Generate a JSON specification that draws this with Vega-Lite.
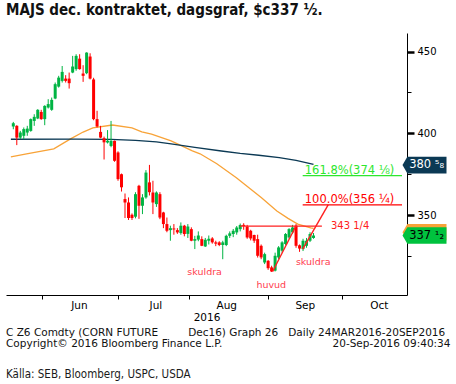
{
  "$schema": "https://vega.github.io/schema/vega-lite/v6.json",
  "background": "white",
  "padding": {"left": 6, "top": 3, "right": 0, "bottom": 2},
  "config": {"view": {"stroke": null}, "font": "DejaVu Sans"},
  "title": {
    "text": ["C Z6 Comdty (CORN FUTURE\u00a0\u00a0\u00a0\u00a0\u00a0\u00a0\u00a0\u00a0\u00a0Dec16) Graph 26\u00a0\u00a0\u00a0Daily 24MAR2016-20SEP2016", "Copyright\u00a9 2016 Bloomberg Finance L.P.\u00a0\u00a0\u00a0\u00a0\u00a0\u00a0\u00a0\u00a0\u00a0\u00a0\u00a0\u00a0\u00a0\u00a0\u00a0\u00a0\u00a0\u00a0\u00a0\u00a0\u00a0\u00a0\u00a0\u00a0\u00a0\u00a0\u00a0\u00a0\u00a0\u00a0\u00a0\u00a0\u00a020-Sep-2016 09:40:34"],
    "subtitle": "Källa: SEB, Bloomberg, USPC, USDA",
    "orient": "bottom",
    "anchor": "start",
    "font": "DejaVu Sans",
    "fontSize": 10.5,
    "fontWeight": "normal",
    "lineHeight": 11,
    "color": "#111111",
    "offset": 5,
    "subtitleFont": "DejaVu Sans Condensed, Liberation Sans Narrow, sans-serif",
    "subtitleFontSize": 11.5,
    "subtitleColor": "#1a1a1a",
    "subtitlePadding": 19
  },
  "datasets": {
    "candles": [
      {"i": -8, "open": 404.2, "high": 407, "low": 402.5, "close": 406.2},
      {"i": -7, "open": 404.6, "high": 405, "low": 392.8, "close": 397.4},
      {"i": -6, "open": 397.4, "high": 401.5, "low": 396.5, "close": 400.5},
      {"i": -5, "open": 398.5, "high": 403.6, "low": 396.5, "close": 402.6},
      {"i": -4, "open": 400.5, "high": 404.6, "low": 398.5, "close": 402.9},
      {"i": -3, "open": 401.5, "high": 409.1, "low": 401, "close": 408.7},
      {"i": -2, "open": 407.6, "high": 411.7, "low": 404.6, "close": 410.1},
      {"i": -1, "open": 409.1, "high": 414.8, "low": 408.7, "close": 414.4},
      {"i": 0, "open": 413.1, "high": 414.4, "low": 408.3, "close": 408.7},
      {"i": 1, "open": 408.7, "high": 417.2, "low": 405, "close": 416.8},
      {"i": 2, "open": 415.8, "high": 420.9, "low": 415.2, "close": 417.9},
      {"i": 3, "open": 414.4, "high": 421.9, "low": 413.8, "close": 420.5},
      {"i": 4, "open": 421.3, "high": 431.1, "low": 420.9, "close": 430.1},
      {"i": 5, "open": 428.6, "high": 435.2, "low": 428, "close": 434.1},
      {"i": 6, "open": 432.1, "high": 441.2, "low": 431.1, "close": 437.6},
      {"i": 7, "open": 433.5, "high": 435.6, "low": 431.1, "close": 432.1},
      {"i": 8, "open": 433.5, "high": 437.2, "low": 427.4, "close": 430.7},
      {"i": 9, "open": 437.2, "high": 447.4, "low": 436.8, "close": 440.9},
      {"i": 10, "open": 439.3, "high": 448.4, "low": 438.3, "close": 447.4},
      {"i": 11, "open": 445.7, "high": 448.4, "low": 439, "close": 439.3},
      {"i": 12, "open": 436.6, "high": 441.7, "low": 431.5, "close": 435.2},
      {"i": 13, "open": 436.8, "high": 449.6, "low": 436.2, "close": 449.4},
      {"i": 14, "open": 447, "high": 449, "low": 433, "close": 433.5},
      {"i": 15, "open": 433, "high": 434, "low": 408, "close": 408.7},
      {"i": 16, "open": 408.7, "high": 413.8, "low": 403.6, "close": 404.2},
      {"i": 17, "open": 400.9, "high": 404.6, "low": 397, "close": 397.4},
      {"i": 18, "open": 397, "high": 398, "low": 384, "close": 394.5},
      {"i": 19, "open": 394.4, "high": 402, "low": 393.8, "close": 395.5},
      {"i": 20, "open": 392.3, "high": 407.6, "low": 391.5, "close": 395.4},
      {"i": 21, "open": 395.4, "high": 395.6, "low": 382.6, "close": 383.2},
      {"i": 22, "open": 388.3, "high": 389, "low": 371, "close": 372},
      {"i": 23, "open": 375, "high": 375.4, "low": 364.4, "close": 367},
      {"i": 24, "open": 359.8, "high": 363.2, "low": 348.2, "close": 357.7},
      {"i": 25, "open": 357.7, "high": 360.8, "low": 347, "close": 348.2},
      {"i": 26, "open": 350.2, "high": 351, "low": 347, "close": 348.2},
      {"i": 27, "open": 349, "high": 364, "low": 348, "close": 362.8},
      {"i": 28, "open": 367.9, "high": 368.5, "low": 347.7, "close": 355.7},
      {"i": 29, "open": 355.7, "high": 362.8, "low": 350.6, "close": 360.8},
      {"i": 30, "open": 360.8, "high": 377.5, "low": 360, "close": 376},
      {"i": 31, "open": 370, "high": 380.7, "low": 362, "close": 364},
      {"i": 32, "open": 363.8, "high": 371, "low": 350.6, "close": 357.7},
      {"i": 33, "open": 356.7, "high": 364.5, "low": 355, "close": 363.8},
      {"i": 34, "open": 362.8, "high": 364, "low": 347.5, "close": 348.5},
      {"i": 35, "open": 351.6, "high": 352, "low": 342, "close": 344.5},
      {"i": 36, "open": 344.5, "high": 348.5, "low": 339.5, "close": 340.4},
      {"i": 37, "open": 340.8, "high": 343.5, "low": 334.3, "close": 342},
      {"i": 38, "open": 341.8, "high": 344.5, "low": 338, "close": 341.2},
      {"i": 39, "open": 340.8, "high": 342, "low": 338.5, "close": 339.4},
      {"i": 40, "open": 339, "high": 345.5, "low": 338, "close": 343.5},
      {"i": 41, "open": 343.5, "high": 344, "low": 337, "close": 338.4},
      {"i": 42, "open": 338.5, "high": 344.5, "low": 336, "close": 343},
      {"i": 43, "open": 341.4, "high": 342.5, "low": 334, "close": 334.3},
      {"i": 44, "open": 334.3, "high": 337.3, "low": 329.2, "close": 335.3},
      {"i": 45, "open": 335, "high": 340, "low": 334, "close": 337.5},
      {"i": 46, "open": 335.3, "high": 337, "low": 331, "close": 331.2},
      {"i": 47, "open": 330.8, "high": 336, "low": 330.5, "close": 334.9},
      {"i": 48, "open": 334.3, "high": 337.5, "low": 332, "close": 335.5},
      {"i": 49, "open": 335.7, "high": 336.5, "low": 332.5, "close": 333.3},
      {"i": 50, "open": 333.3, "high": 334.3, "low": 331, "close": 332.5},
      {"i": 51, "open": 333.3, "high": 334, "low": 331, "close": 331.7},
      {"i": 52, "open": 331.7, "high": 334.3, "low": 323, "close": 333.3},
      {"i": 53, "open": 331.7, "high": 338, "low": 331, "close": 337.3},
      {"i": 54, "open": 337.3, "high": 340, "low": 336, "close": 338.8},
      {"i": 55, "open": 338.4, "high": 341.5, "low": 336.5, "close": 340.4},
      {"i": 56, "open": 339.4, "high": 343.3, "low": 338, "close": 342.4},
      {"i": 57, "open": 341.4, "high": 344.8, "low": 340, "close": 343.9},
      {"i": 58, "open": 344, "high": 345, "low": 341, "close": 343.3},
      {"i": 59, "open": 343, "high": 344, "low": 335.5, "close": 336.3},
      {"i": 60, "open": 340.4, "high": 341, "low": 334.5, "close": 335.7},
      {"i": 61, "open": 337.8, "high": 338, "low": 333, "close": 334.3},
      {"i": 62, "open": 335.3, "high": 338, "low": 324, "close": 325.1},
      {"i": 63, "open": 331.2, "high": 332, "low": 323, "close": 324.1},
      {"i": 64, "open": 321, "high": 327, "low": 320, "close": 326.1},
      {"i": 65, "open": 322, "high": 322.5, "low": 316.5, "close": 317.5},
      {"i": 66, "open": 318, "high": 319, "low": 315.2, "close": 315.5},
      {"i": 67, "open": 316, "high": 327, "low": 315.5, "close": 325.1},
      {"i": 68, "open": 324.1, "high": 331, "low": 323, "close": 330.2},
      {"i": 69, "open": 328.2, "high": 334, "low": 327, "close": 333.3},
      {"i": 70, "open": 332.3, "high": 339, "low": 331.5, "close": 338.4},
      {"i": 71, "open": 336.3, "high": 342, "low": 335.5, "close": 341.4},
      {"i": 72, "open": 339.4, "high": 344, "low": 338.5, "close": 342.4},
      {"i": 73, "open": 343.5, "high": 344.5, "low": 330, "close": 331.2},
      {"i": 74, "open": 331.5, "high": 332, "low": 327.5, "close": 329.5},
      {"i": 75, "open": 329.2, "high": 335.5, "low": 328, "close": 334.3},
      {"i": 76, "open": 331.2, "high": 336, "low": 330, "close": 334.3},
      {"i": 77, "open": 334.3, "high": 339.5, "low": 333.5, "close": 338.4},
      {"i": 78, "open": 336, "high": 339, "low": 335.5, "close": 337.5}
    ],
    "ma": [
      {"kind": "MA 50", "i": -8.7, "v": 385.6},
      {"kind": "MA 50", "i": -4.2, "v": 387.5},
      {"kind": "MA 50", "i": 3.6, "v": 390.5},
      {"kind": "MA 50", "i": 8.4, "v": 396.6},
      {"kind": "MA 50", "i": 12, "v": 400.8},
      {"kind": "MA 50", "i": 14.8, "v": 403.3},
      {"kind": "MA 50", "i": 20.4, "v": 405.1},
      {"kind": "MA 50", "i": 26, "v": 403.3},
      {"kind": "MA 50", "i": 28.8, "v": 400.9},
      {"kind": "MA 50", "i": 31.6, "v": 399.5},
      {"kind": "MA 50", "i": 37.2, "v": 395.4},
      {"kind": "MA 50", "i": 43.3, "v": 389.3},
      {"kind": "MA 50", "i": 45.5, "v": 387.5},
      {"kind": "MA 50", "i": 50.3, "v": 381.4},
      {"kind": "MA 50", "i": 55.9, "v": 372.8},
      {"kind": "MA 50", "i": 59.5, "v": 366.7},
      {"kind": "MA 50", "i": 63.1, "v": 360.6},
      {"kind": "MA 50", "i": 67.5, "v": 352.5},
      {"kind": "MA 50", "i": 70.7, "v": 348},
      {"kind": "MA 50", "i": 73.5, "v": 344.5},
      {"kind": "MA 50", "i": 77.2, "v": 342.2},
      {"kind": "MA 50", "i": 78, "v": 341.8},
      {"kind": "MA 100", "i": -8.7, "v": 396.4},
      {"kind": "MA 100", "i": 10, "v": 396.5},
      {"kind": "MA 100", "i": 20, "v": 396.3},
      {"kind": "MA 100", "i": 27, "v": 395.7},
      {"kind": "MA 100", "i": 33, "v": 394.8},
      {"kind": "MA 100", "i": 37.2, "v": 393.5},
      {"kind": "MA 100", "i": 44, "v": 391.4},
      {"kind": "MA 100", "i": 51.6, "v": 389.2},
      {"kind": "MA 100", "i": 57, "v": 387.7},
      {"kind": "MA 100", "i": 62.3, "v": 386.6},
      {"kind": "MA 100", "i": 68.2, "v": 385.2},
      {"kind": "MA 100", "i": 73, "v": 383.5},
      {"kind": "MA 100", "i": 78, "v": 381}
    ],
    "lines": [
      {"name": "neckline", "kind": "neckline", "i": 57, "v": 343.25},
      {"name": "neckline", "kind": "neckline", "i": 80.4, "v": 343.25},
      {"name": "trend A", "kind": "trend", "i": 66.3, "v": 315.5},
      {"name": "trend A", "kind": "trend", "i": 73, "v": 343.5},
      {"name": "trend B", "kind": "trend", "i": 74.9, "v": 329.2},
      {"name": "trend B", "kind": "trend", "i": 82.2, "v": 356.25},
      {"name": "fib 161.8%", "kind": "fib 161.8%", "i": 74.9, "v": 374.125},
      {"name": "fib 161.8%", "kind": "fib 161.8%", "i": 103.35, "v": 374.125},
      {"name": "fib 100%", "kind": "fib 100%", "i": 74.9, "v": 356.25},
      {"name": "fib 100%", "kind": "fib 100%", "i": 103.35, "v": 356.25}
    ],
    "fibLabels": [
      {"label": "161.8%(374 ⅛)", "kind": "fib 161.8%", "i": 75.5, "v": 374.125},
      {"label": "100.0%(356 ¼)", "kind": "fib 100%", "i": 75.5, "v": 356.25}
    ],
    "neckLabel": [
      {"label": "343 1/4", "kind": "neckline", "i": 83, "v": 343.25}
    ],
    "patternLabels": [
      {"label": "skuldra", "kind": "pattern", "i": 46.8, "v": 315.3},
      {"label": "huvud", "kind": "pattern", "i": 65.9, "v": 307.4},
      {"label": "skuldra", "kind": "pattern", "i": 77.9, "v": 321.3}
    ],
    "tags": [
      {"label": "380 ⁵₈", "kind": "MA 100", "v": 380.625},
      {"label": "", "kind": "MA 50", "v": 339.5},
      {"label": "337 ¹₂", "kind": "last", "v": 337.5}
    ]
  },
  "vconcat": [
    {
      "width": 401,
      "height": 262,
      "title": {
        "text": "MAJS dec. kontraktet, dagsgraf, $c337 ½.",
        "anchor": "start",
        "font": "DejaVu Sans Condensed, Liberation Sans Narrow, sans-serif",
        "fontSize": 15,
        "fontWeight": "bold",
        "color": "#111111",
        "offset": 15
      },
      "layer": [
        {
          "data": {"name": "ma"},
          "mark": {"type": "line", "strokeWidth": 1.3, "clip": true},
          "encoding": {
            "x": {
              "field": "i", "type": "quantitative",
              "scale": {"domain": [-8.66, 103.35], "nice": false, "zero": false},
              "axis": {
                "values": [0.2, 22.1, 42.4, 64.9, 86.1],
                "labelExpr": "datum.value < 10 ? 'Jun' : datum.value < 30 ? 'Jul' : datum.value < 50 ? 'Aug' : datum.value < 75 ? 'Sep' : 'Oct'",
                "labelOffset": 37,
                "tickSize": 4,
                "tickColor": "black",
                "domainColor": "black",
                "labelFontSize": 10.5,
                "labelColor": "black",
                "labelPadding": 1,
                "labelFlush": false,
                "labelOverlap": false,
                "labelBound": false,
                "title": "2016",
                "titleFontSize": 10.5,
                "titleFontWeight": "normal",
                "titleColor": "black",
                "titlePadding": 2,
                "grid": false
              }
            },
            "y": {
              "field": "v", "type": "quantitative",
              "scale": {"domain": [301.1, 461.4], "nice": false, "zero": false},
              "axis": {
                "orient": "right",
                "values": [325, 350, 375, 400, 425, 450],
                "labelExpr": "datum.value % 50 === 0 ? datum.label : ''",
                "tickSize": {"condition": {"test": "datum.value % 50 === 0", "value": 7}, "value": 4},
                "tickWidth": {"condition": {"test": "datum.value % 50 === 0", "value": 2.5}, "value": 1},
                "tickColor": "black",
                "domainColor": "black",
                "labelFontSize": 10,
                "labelColor": "black",
                "labelPadding": 3,
                "title": null,
                "grid": false
              }
            },
            "color": {
              "field": "kind", "type": "nominal",
              "scale": {
                "domain": ["MA 50", "MA 100", "last", "neckline", "trend", "fib 161.8%", "fib 100%", "pattern"],
                "range": ["#f8a338", "#0b3954", "#00c23e", "#ff2020", "#ff2020", "#2ee62e", "#ff0000", "#ff3b4e"]
              },
              "legend": null
            }
          }
        },
        {
          "data": {"name": "candles"},
          "mark": {"type": "rule", "strokeWidth": 1, "clip": true},
          "encoding": {
            "x": {"field": "i", "type": "quantitative"},
            "y": {"field": "low", "type": "quantitative"},
            "y2": {"field": "high"},
            "color": {"condition": {"test": "datum.close >= datum.open", "value": "#00b443"}, "value": "#ff0000"}
          }
        },
        {
          "data": {"name": "candles"},
          "mark": {"type": "bar", "size": 3, "clip": true},
          "encoding": {
            "x": {"field": "i", "type": "quantitative"},
            "y": {"field": "open", "type": "quantitative"},
            "y2": {"field": "close"},
            "color": {"condition": {"test": "datum.close >= datum.open", "value": "#00b443"}, "value": "#ff0000"}
          }
        },
        {
          "data": {"name": "lines"},
          "mark": {"type": "line", "strokeWidth": 1.4, "clip": true},
          "encoding": {
            "x": {"field": "i", "type": "quantitative"},
            "y": {"field": "v", "type": "quantitative"},
            "color": {"field": "kind", "type": "nominal"},
            "detail": {"field": "name"}
          }
        },
        {
          "data": {"name": "fibLabels"},
          "mark": {"type": "text", "align": "left", "baseline": "alphabetic", "dy": -2, "fontSize": 11.5, "font": "DejaVu Sans"},
          "encoding": {
            "x": {"field": "i", "type": "quantitative"},
            "y": {"field": "v", "type": "quantitative"},
            "text": {"field": "label"},
            "color": {"field": "kind", "type": "nominal"}
          }
        },
        {
          "data": {"name": "neckLabel"},
          "mark": {"type": "text", "align": "left", "baseline": "middle", "fontSize": 10, "font": "DejaVu Sans"},
          "encoding": {
            "x": {"field": "i", "type": "quantitative"},
            "y": {"field": "v", "type": "quantitative"},
            "text": {"field": "label"},
            "color": {"field": "kind", "type": "nominal"}
          }
        },
        {
          "data": {"name": "patternLabels"},
          "mark": {"type": "text", "align": "center", "baseline": "middle", "fontSize": 9.5, "font": "DejaVu Sans"},
          "encoding": {
            "x": {"field": "i", "type": "quantitative"},
            "y": {"field": "v", "type": "quantitative"},
            "text": {"field": "label"},
            "color": {"field": "kind", "type": "nominal"}
          }
        },
        {
          "data": {"name": "tags"},
          "mark": {"type": "point", "filled": true, "opacity": 1, "clip": false, "size": 1936, "shape": "M-1,0L-0.78,-0.38L1,-0.38L1,0.38L-0.78,0.38Z"},
          "encoding": {
            "x": {"datum": 109.8, "type": "quantitative"},
            "y": {"field": "v", "type": "quantitative"},
            "color": {"field": "kind", "type": "nominal"}
          }
        },
        {
          "data": {"name": "tags"},
          "mark": {"type": "text", "align": "center", "baseline": "middle", "fontSize": 11.5, "font": "DejaVu Sans", "clip": false},
          "encoding": {
            "x": {"datum": 110.4, "type": "quantitative"},
            "y": {"field": "v", "type": "quantitative"},
            "text": {"field": "label"},
            "color": {"condition": {"test": "datum.kind === 'MA 100'", "value": "white"}, "value": "black"}
          }
        }
      ]
    }
  ]
}
